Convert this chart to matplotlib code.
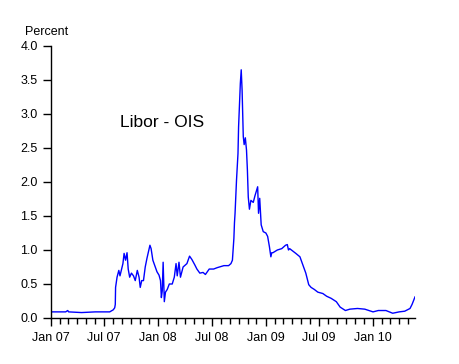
import matplotlib
matplotlib.use("Agg")
import matplotlib.pyplot as plt
import matplotlib.dates as mdates
import pandas as pd

dates = [
    "2007-01-01", "2007-02-20", "2007-02-27", "2007-03-02", "2007-04-15", "2007-06-01",
    "2007-07-20", "2007-08-01", "2007-08-06", "2007-08-08", "2007-08-09", "2007-08-14",
    "2007-08-20", "2007-08-24", "2007-09-03", "2007-09-07", "2007-09-12", "2007-09-17",
    "2007-09-21", "2007-09-26", "2007-10-02", "2007-10-09", "2007-10-15", "2007-10-22",
    "2007-10-28", "2007-11-01", "2007-11-06", "2007-11-12", "2007-11-18", "2007-11-24",
    "2007-12-04", "2007-12-08", "2007-12-14", "2007-12-22", "2007-12-28", "2008-01-04",
    "2008-01-09", "2008-01-12", "2008-01-15", "2008-01-18", "2008-01-22", "2008-01-26",
    "2008-02-01", "2008-02-08", "2008-02-18", "2008-02-25", "2008-03-02", "2008-03-06",
    "2008-03-12", "2008-03-17", "2008-03-26", "2008-04-08", "2008-04-17", "2008-04-25",
    "2008-05-05", "2008-05-12", "2008-05-22", "2008-06-02", "2008-06-10", "2008-06-23",
    "2008-07-08", "2008-07-20", "2008-08-12", "2008-08-28", "2008-09-05", "2008-09-10",
    "2008-09-15", "2008-09-17", "2008-09-19", "2008-09-24", "2008-09-29", "2008-10-01",
    "2008-10-07", "2008-10-10", "2008-10-13", "2008-10-17", "2008-10-20", "2008-10-24",
    "2008-10-28", "2008-10-31", "2008-11-03", "2008-11-07", "2008-11-12", "2008-11-20",
    "2008-11-26", "2008-12-05", "2008-12-08", "2008-12-12", "2008-12-17", "2008-12-24",
    "2009-01-02", "2009-01-08", "2009-01-14", "2009-01-19", "2009-01-22", "2009-01-26",
    "2009-02-10", "2009-02-25", "2009-03-10", "2009-03-16", "2009-03-20", "2009-03-24",
    "2009-04-05", "2009-04-14", "2009-04-28", "2009-05-08", "2009-05-18", "2009-05-28",
    "2009-06-05", "2009-06-16", "2009-06-28", "2009-07-15", "2009-07-28", "2009-08-12",
    "2009-08-30", "2009-09-12", "2009-09-30", "2009-10-15", "2009-11-10", "2009-12-05",
    "2010-01-02", "2010-01-20", "2010-02-15", "2010-03-10", "2010-04-01", "2010-04-20",
    "2010-05-08", "2010-05-15", "2010-05-25",
]
spread = [
    0.09, 0.09, 0.11, 0.09, 0.08, 0.09,
    0.09, 0.12, 0.15, 0.20, 0.45, 0.60,
    0.70, 0.62, 0.80, 0.95, 0.85, 0.96,
    0.72, 0.60, 0.66, 0.62, 0.55, 0.70,
    0.60, 0.45, 0.55, 0.55, 0.75, 0.88,
    1.07, 1.02, 0.85, 0.75, 0.68, 0.63,
    0.55, 0.30, 0.40, 0.82, 0.24, 0.38,
    0.42, 0.50, 0.50, 0.60, 0.80, 0.62,
    0.82, 0.60, 0.75, 0.80, 0.91, 0.86,
    0.78, 0.72, 0.66, 0.67, 0.64, 0.72,
    0.72, 0.74, 0.77, 0.77, 0.80, 0.85,
    1.17, 1.40, 1.54, 2.03, 2.42, 2.81,
    3.45, 3.65, 3.35, 2.67, 2.55, 2.65,
    2.47, 2.18, 1.78, 1.60, 1.73, 1.70,
    1.80, 1.93, 1.54, 1.76, 1.37, 1.27,
    1.25, 1.20, 1.05, 0.90, 0.96, 0.96,
    1.00, 1.02, 1.07, 1.08, 1.00, 1.02,
    0.98, 0.95, 0.90, 0.78, 0.66, 0.49,
    0.45, 0.42, 0.38, 0.36, 0.32, 0.29,
    0.24, 0.16, 0.11, 0.13, 0.14, 0.13,
    0.09, 0.11, 0.11, 0.07, 0.09, 0.10,
    0.14, 0.20, 0.31,
]
yticks = [0.0, 0.5, 1.0, 1.5, 2.0, 2.5, 3.0, 3.5, 4.0]
ytick_labels = ["0.0", "0.5", "1.0", "1.5", "2.0", "2.5", "3.0", "3.5", "4.0"]

plt.rcParams['font.family'] = ['Liberation Sans', 'DejaVu Sans']

fig = plt.figure(figsize=(4.6, 3.64), dpi=100)
ax = fig.add_axes([51/460, 46/364, (415-51)/460, (318-46)/364])

x = pd.to_datetime(dates)
ax.plot(x, spread, color="#0000FF", linewidth=1.0)

ax.set_xlim(pd.Timestamp("2007-01-01"), pd.Timestamp("2010-05-25"))
ax.set_ylim(0, 4.0)
ax.set_yticks(yticks)
ax.set_yticklabels(ytick_labels)

ax.xaxis.set_major_locator(mdates.MonthLocator(bymonth=[1, 7]))
ax.xaxis.set_major_formatter(mdates.DateFormatter("%b %y"))
ax.xaxis.set_minor_locator(mdates.MonthLocator())

for s in ["top", "right"]:
    ax.spines[s].set_visible(False)
for s in ["left", "bottom"]:
    ax.spines[s].set_linewidth(1.0)
    ax.spines[s].set_color("black")

ax.tick_params(axis="both", which="major", labelsize=9, length=6, width=1, direction="out", colors="black")
ax.tick_params(axis="x", which="minor", length=4, width=1, direction="out")
ax.tick_params(axis="x", which="major", pad=4)

ax.text(pd.Timestamp("2008-01-15"), 2.88, "Libor - OIS", fontsize=12.5, ha="center", va="center")
fig.text(25/460, 1 - 32/364, "Percent", fontsize=9, ha="left", va="center")

fig.savefig("out.png", dpi=100)
